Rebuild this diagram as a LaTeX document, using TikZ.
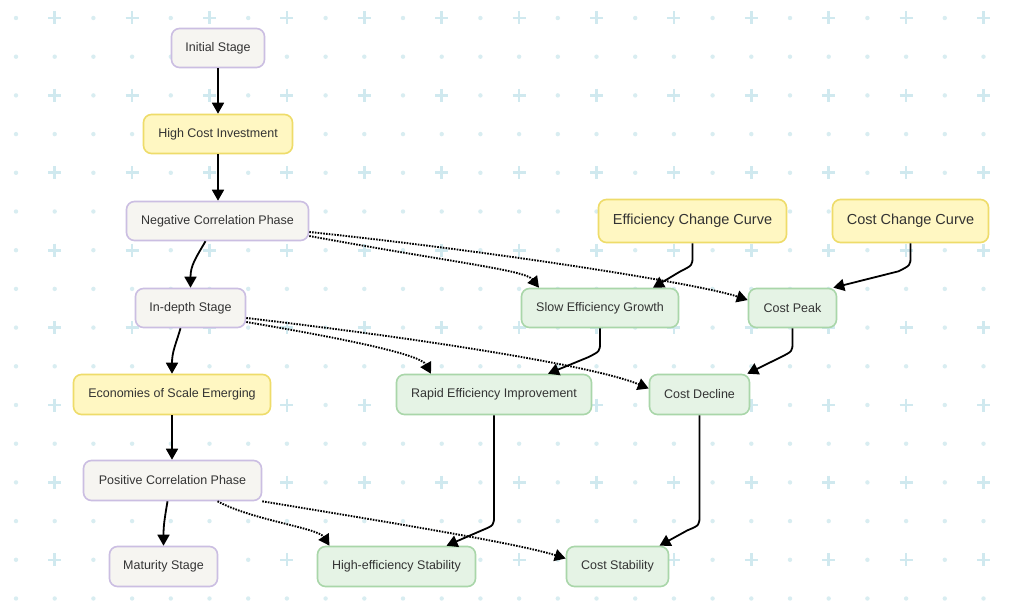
\documentclass[tikz,border=0pt]{standalone}
\usepackage{fontspec}
\setmainfont{Liberation Sans}
\usetikzlibrary{arrows.meta,calc}
\definecolor{gridc}{HTML}{D0E9EF}
\definecolor{dotc}{HTML}{D8EDF1}
\definecolor{pfill}{HTML}{F6F5F1}
\definecolor{pdraw}{HTML}{CBBEE2}
\definecolor{yfill}{HTML}{FFF7C2}
\definecolor{ydraw}{HTML}{EEDC6A}
\definecolor{gfill}{HTML}{E5F3E5}
\definecolor{gdraw}{HTML}{A9D6A9}
\definecolor{txt}{HTML}{333333}
\begin{document}
\begin{tikzpicture}[x=1pt,y=-1pt,
  box/.style={rectangle,rounded corners=8pt,line width=1.6pt,inner sep=0pt,text=txt,
    font=\fontsize{12.5}{15}\selectfont},
  pbox/.style={box,fill=pfill,draw=pdraw},
  ybox/.style={box,fill=yfill,draw=ydraw},
  gbox/.style={box,fill=gfill,draw=gdraw},
  bigtxt/.style={font=\fontsize{14.5}{17}\selectfont},
  flow/.style={line width=1.8pt,-{Triangle[length=11pt,width=12pt]}},
  dotflow/.style={line width=1.9pt,dash pattern=on 1.6pt off 1.2pt,-{Triangle[length=11pt,width=12pt]}}
]
\useasboundingbox (0,0) rectangle (1012,604);
\fill[white] (0,0) rectangle (1012,604);
% background grid
\foreach \i in {0,...,25}{
  \foreach \j in {0,...,15}{
    \pgfmathsetmacro{\xx}{16+38.7*\i}
    \pgfmathsetmacro{\yy}{18+38.7*\j}
    \pgfmathtruncatemacro{\isplus}{(mod(\i,2)==1)&&(mod(\j,2)==0)}
    \ifnum\isplus=1
      \draw[gridc,line width=2.6pt] (\xx-6.5,\yy) -- (\xx+6.5,\yy) (\xx,\yy-6.5) -- (\xx,\yy+6.5);
    \else
      \fill[dotc] (\xx,\yy) circle (2.2);
    \fi
  }
}
% nodes
\node[pbox,minimum width=93pt,minimum height=39pt] (init) at (218,48) {Initial Stage};
\node[ybox,minimum width=149pt,minimum height=39pt] (hci) at (218,134) {High Cost Investment};
\node[pbox,minimum width=182pt,minimum height=39pt] (neg) at (217.5,221) {Negative Correlation Phase};
\node[pbox,minimum width=110pt,minimum height=39pt] (ind) at (190.5,308) {In-depth Stage};
\node[ybox,minimum width=197pt,minimum height=40pt] (econ) at (172,394.5) {Economies of Scale Emerging};
\node[pbox,minimum width=178pt,minimum height=40pt] (pos) at (172.5,480.5) {Positive Correlation Phase};
\node[pbox,minimum width=108pt,minimum height=40pt] (mat) at (163.5,566.5) {Maturity Stage};
\node[gbox,minimum width=158pt,minimum height=40pt] (hes) at (396.5,566.5) {High-efficiency Stability};
\node[gbox,minimum width=102pt,minimum height=40pt] (cstab) at (617.5,566.5) {Cost Stability};
\node[gbox,minimum width=195pt,minimum height=40pt] (rapid) at (494,394.5) {Rapid Efficiency Improvement};
\node[gbox,minimum width=100pt,minimum height=40pt] (cdec) at (699.5,394.5) {Cost Decline};
\node[gbox,minimum width=157pt,minimum height=39pt] (slow) at (600,308) {Slow Efficiency Growth};
\node[gbox,minimum width=88pt,minimum height=39pt] (cpeak) at (792.5,308) {Cost Peak};
\node[ybox,bigtxt,minimum width=188pt,minimum height=43pt] (ecc) at (692.5,221) {Efficiency Change Curve};
\node[ybox,bigtxt,minimum width=156pt,minimum height=43pt] (ccc) at (910.5,221) {Cost Change Curve};
% solid edges
\draw[flow] (init.south) -- (hci.north);
\draw[flow] (hci.south) -- (neg.north -| hci.south);
\draw[flow] ([xshift=-12pt]neg.south) .. controls ($([xshift=-12pt]neg.south)+(-10,17)$) and ($(ind.north)+(0,-22)$) .. (ind.north);
\draw[flow] ([xshift=-10pt]ind.south) .. controls ($([xshift=-10pt]ind.south)+(-5,17)$) and ($(econ.north)+(0,-22)$) .. (econ.north);
\draw[flow] (econ.south) -- (pos.north -| econ.south);
\draw[flow] ([xshift=-5pt]pos.south) .. controls ($([xshift=-5pt]pos.south)+(-3,18)$) and ($(mat.north)+(0,-20)$) .. (mat.north);
\draw[flow] (ecc.south) -- ++(0,13) .. controls +(0,9) .. ++(-12,15) -- ([xshift=53pt]slow.north);
\draw[flow] (ccc.south) -- ++(0,13) .. controls +(0,9) .. ++(-12,15) -- ([xshift=-4pt]cpeak.north east);
\draw[flow] (slow.south) -- ++(0,14) .. controls +(0,9) .. ++(-12,15) -- ([xshift=54pt]rapid.north);
\draw[flow] (cpeak.south) -- ++(0,14) .. controls +(0,9) .. ++(-12,15) -- ([xshift=-3pt]cdec.north east);
\draw[flow] (rapid.south) -- ++(0,100) .. controls +(0,10) .. ++(-12,15) -- ([xshift=50pt]hes.north);
\draw[flow] (cdec.south) -- ++(0,100) .. controls +(0,10) .. ++(-12,15) -- ([xshift=42pt]cstab.north);
% dotted edges
\draw[dotflow] ([yshift=-15pt]neg.east) .. controls (450,262) and (525,270) .. ([xshift=-61pt]slow.north);
\draw[dotflow] ([yshift=-11pt]neg.east) .. controls (500,252) and (700,284) .. ([yshift=8pt]cpeak.west);
\draw[dotflow] ([yshift=-14pt]ind.east) .. controls (340,338) and (420,354) .. ([xshift=-63pt]rapid.north);
\draw[dotflow] ([yshift=-10pt]ind.east) .. controls (450,342) and (600,368) .. ([yshift=6pt]cdec.west);
\draw[dotflow] ([xshift=45pt]pos.south) .. controls (252,520) and (318,528) .. ([xshift=-67pt]hes.north);
\draw[dotflow] (pos.south east) .. controls (400,524) and (520,544) .. ([yshift=8pt]cstab.west);
\end{tikzpicture}
\end{document}
